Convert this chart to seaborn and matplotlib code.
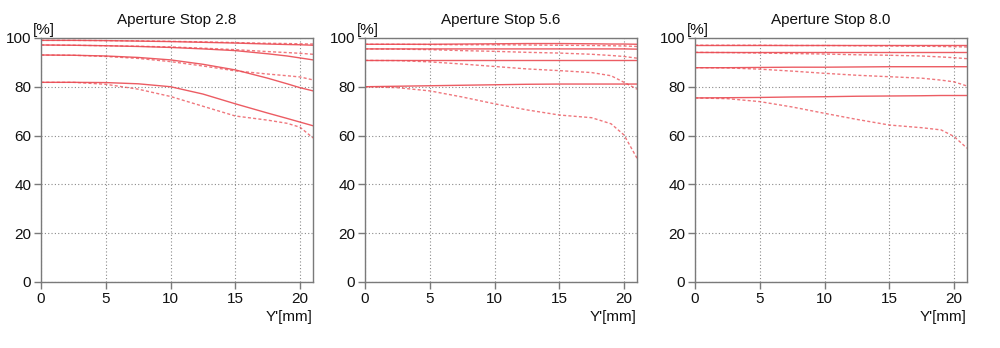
import matplotlib
matplotlib.use("Agg")
import matplotlib.pyplot as plt
import seaborn as sns
import pandas as pd

sns.set_theme(style="white")
plt.rcParams["font.family"] = ["Liberation Sans", "DejaVu Sans"]

# Image height Y' [mm] at which the contrast values are sampled
image_height = [0, 2.5, 5, 7.5, 10, 12.5, 15, 17.5, 19, 20, 21]

titles = ["Aperture Stop 2.8", "Aperture Stop 5.6", "Aperture Stop 8.0"]
x_ticks = [0, 5, 10, 15, 20]
y_ticks = [0, 20, 40, 60, 80, 100]

# f/2.8 — sagittal (solid) and tangential (dashed), four spatial frequencies
f28_sag = [
    [99.0, 99.0, 98.9, 98.7, 98.5, 98.2, 97.9, 97.5, 97.3, 97.2, 97.0],
    [97.1, 97.0, 96.8, 96.5, 96.1, 95.5, 94.8, 93.5, 92.6, 91.8, 91.0],
    [93.0, 92.9, 92.6, 92.0, 91.0, 89.2, 86.9, 83.5, 81.2, 79.6, 78.3],
    [81.8, 81.8, 81.7, 81.2, 80.0, 77.0, 73.0, 69.2, 67.0, 65.5, 64.0],
]
f28_tan = [
    [99.0, 99.0, 98.9, 98.8, 98.6, 98.4, 98.1, 97.8, 97.7, 97.6, 97.5],
    [97.1, 97.0, 96.8, 96.6, 96.3, 95.8, 95.2, 94.4, 94.0, 93.7, 93.3],
    [93.0, 92.9, 92.4, 91.6, 90.3, 88.5, 86.5, 85.2, 84.5, 84.0, 82.8],
    [81.8, 81.8, 81.0, 79.0, 76.0, 72.0, 68.0, 66.3, 65.0, 63.4, 59.0],
]

# f/5.6
f56_sag = [
    [97.4, 97.4, 97.4, 97.5, 97.6, 97.7, 97.7, 97.6, 97.5, 97.5, 97.4],
    [95.5, 95.5, 95.5, 95.5, 95.5, 95.5, 95.5, 95.5, 95.5, 95.5, 95.4],
    [90.8, 90.8, 90.8, 90.8, 90.8, 90.8, 90.8, 90.8, 90.8, 90.8, 90.8],
    [80.0, 80.2, 80.4, 80.6, 80.8, 81.0, 81.1, 81.1, 81.1, 81.1, 81.1],
]
f56_tan = [
    [97.4, 97.4, 97.3, 97.2, 97.2, 97.1, 97.0, 96.9, 96.8, 96.7, 96.5],
    [95.5, 95.4, 95.2, 94.8, 94.5, 94.1, 93.8, 93.3, 92.8, 92.4, 91.7],
    [90.8, 90.7, 90.2, 89.3, 88.3, 87.3, 86.6, 85.8, 84.5, 81.8, 79.0],
    [80.0, 79.6, 78.3, 75.8, 73.0, 70.5, 68.4, 67.3, 64.8, 60.2, 50.7],
]

# f/8.0
f80_sag = [
    [97.0, 97.0, 97.0, 97.0, 97.0, 97.0, 97.0, 97.0, 97.0, 97.0, 97.0],
    [94.1, 94.1, 94.1, 94.1, 94.1, 94.1, 94.1, 94.1, 94.1, 94.1, 94.1],
    [87.8, 87.8, 87.9, 88.0, 88.0, 88.1, 88.2, 88.2, 88.2, 88.2, 88.2],
    [75.4, 75.5, 75.6, 75.8, 75.9, 76.1, 76.2, 76.3, 76.4, 76.4, 76.4],
]
f80_tan = [
    [97.0, 97.0, 97.0, 96.9, 96.9, 96.8, 96.7, 96.6, 96.5, 96.4, 96.3],
    [94.1, 94.0, 93.8, 93.6, 93.4, 93.1, 92.9, 92.6, 92.2, 91.9, 91.5],
    [87.8, 87.7, 87.2, 86.4, 85.5, 84.7, 84.1, 83.5, 82.7, 82.0, 80.3],
    [75.4, 75.1, 73.9, 71.7, 69.1, 66.6, 64.3, 63.2, 62.3, 59.6, 54.8],
]

panels = [(f28_sag, f28_tan), (f56_sag, f56_tan), (f80_sag, f80_tan)]

rows = []
for p, (sag, tan) in enumerate(panels):
    for k, series in enumerate(sag):
        for x, v in zip(image_height, series):
            rows.append(dict(panel=p, curve=f"S{k}", kind="sagittal", x=x, mtf=v))
    for k, series in enumerate(tan):
        for x, v in zip(image_height, series):
            rows.append(dict(panel=p, curve=f"T{k}", kind="tangential", x=x, mtf=v))
df = pd.DataFrame(rows)

fig = plt.figure(figsize=(10, 3.48), dpi=100)
lefts = [0.041, 0.365, 0.695]
width = 0.272
bottom, height = 0.19, 0.701

red = "#ea4a52"
frame = "#7a7a7a"

for p in range(3):
    ax = fig.add_axes([lefts[p], bottom, width, height])
    sub = df[df.panel == p]
    sns.lineplot(data=sub[sub.kind == "sagittal"], x="x", y="mtf", units="curve",
                 estimator=None, ax=ax, color=red, linewidth=1.0, alpha=0.9,
                 legend=False)
    sns.lineplot(data=sub[sub.kind == "tangential"], x="x", y="mtf", units="curve",
                 estimator=None, ax=ax, color=red, linewidth=1.0, alpha=0.75,
                 dashes=False, linestyle=(0, (2.2, 1.6)), legend=False)

    ax.set_xlim(0, 21)
    ax.set_ylim(0, 100)
    ax.set_xticks(x_ticks)
    ax.set_yticks(y_ticks)
    ax.set_xlabel("")
    ax.set_ylabel("")
    ax.grid(True, color="#8a8a8a", linestyle=(0, (1, 2)), linewidth=0.8)
    ax.set_axisbelow(True)
    for s in ax.spines.values():
        s.set_color(frame)
        s.set_linewidth(1.0)
    ax.tick_params(axis="both", direction="out", length=5, width=1.0,
                   color=frame, labelsize=11, pad=2, labelcolor="#111111")
    ax.tick_params(axis="both", which="both", left=True, bottom=True)
    ax.set_title(titles[p], fontsize=11, pad=10, color="#111111")
    ax.text(-0.03, 1.005, "[%]", transform=ax.transAxes, ha="left",
            va="bottom", fontsize=11, color="#111111")
    ax.text(1.0, -0.115, "Y'[mm]", transform=ax.transAxes, ha="right",
            va="top", fontsize=11, color="#111111")

fig.savefig("out.png", dpi=100, facecolor="white")
